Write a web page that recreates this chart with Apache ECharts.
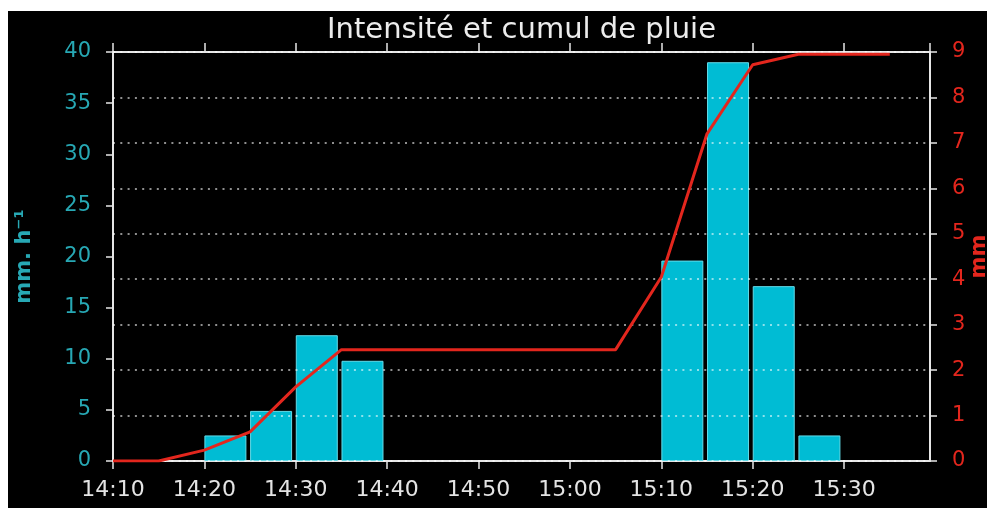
<!DOCTYPE html>
<html>
<head>
<meta charset="utf-8">
<script src="https://cdn.jsdelivr.net/npm/echarts@6/dist/echarts.min.js"></script>
<style>
	html, body {
		margin: 0;
		padding: 0;
		background: #ffffff;
	}
	#pluie {
		position: absolute;
		left: 8px;
		top: 11px;
		width: 979px;
		height: 497px;
	}
</style>
</head>
<body>
<div id="pluie"></div>
<script>
	// intensité (mm/h) par pas de 5 minutes
	var barTimes = ['14:20', '14:25', '14:30', '14:35', '15:10', '15:15', '15:20', '15:25'];
	var intensite = [2.5, 4.9, 12.3, 9.8, 19.6, 39.0, 17.1, 2.5];

	// cumul (mm)
	var cumulTimes = ['14:10', '14:15', '14:20', '14:25', '14:30', '14:35', '14:40', '14:45', '14:50',
		'14:55', '15:00', '15:05', '15:10', '15:15', '15:20', '15:25', '15:30', '15:35'];
	var cumul = [0, 0, 0.24, 0.64, 1.63, 2.45, 2.45, 2.45, 2.45,
		2.45, 2.45, 2.45, 4.05, 7.2, 8.72, 8.95, 8.95, 8.95];

	var leftTicks = [0, 40, 5];   // min, max, pas
	var rightTicks = [0, 9, 1];

	function toMin(t) {
		var p = t.split(':');
		return parseInt(p[0]) * 60 + parseInt(p[1]);
	}
	function fmt(v) {
		if (Math.abs(v % 10) > 0.001) return '';
		var h = Math.floor(v / 60), m = Math.round(v % 60);
		return h + ':' + (m < 10 ? '0' + m : m);
	}

	var xMin = toMin('14:10');
	var xMax = xMin + 89.4;
	var barShift = 2.3; // barres alignées sur le début de l'intervalle

	var chart = echarts.init(document.getElementById('pluie'));
	var font = 'DejaVu Sans';
	var spine = '#e6e6e6';
	var teal = '#27a8b4';
	var red = '#e3261d';

	var option = {
		backgroundColor: '#000000',
		animation: false,
		textStyle: { fontFamily: font },
		title: {
			text: 'Intensité et cumul de pluie',
			left: 314,
			top: 0,
			textStyle: { color: '#ececec', fontSize: 29, fontWeight: 'normal', fontFamily: font }
		},
		grid: { left: 105, right: 57, top: 41, bottom: 47, outerBoundsMode: 'none', containLabel: false },
		xAxis: [{
			type: 'value',
			position: 'bottom',
			min: xMin,
			max: xMax,
			interval: 10,
			axisLine: { show: true, onZero: false, lineStyle: { color: spine, width: 2 } },
			axisTick: { show: true, length: 8, lineStyle: { color: spine, width: 1.5 } },
			axisLabel: { color: '#e4e4e4', fontSize: 22, margin: 18, formatter: fmt, showMaxLabel: false, fontFamily: font },
			splitLine: { show: false }
		}, {
			type: 'value',
			position: 'top',
			min: xMin,
			max: xMax,
			interval: 10,
			axisLine: { show: true, onZero: false, lineStyle: { color: spine, width: 2 } },
			axisTick: { show: true, length: 9, lineStyle: { color: spine, width: 1.5 } },
			axisLabel: { show: false },
			splitLine: { show: false }
		}],
		yAxis: [{
			type: 'value',
			position: 'left',
			min: leftTicks[0],
			max: leftTicks[1],
			interval: leftTicks[2],
			name: 'mm. h⁻¹',
			nameLocation: 'middle',
			nameGap: 78,
			nameMoveOverlap: false,
			nameTextStyle: { color: teal, fontSize: 21, fontWeight: 'bold', fontFamily: font },
			axisLine: { show: true, onZero: false, lineStyle: { color: spine, width: 2 } },
			axisTick: { show: true, length: 7, lineStyle: { color: spine, width: 1.5 } },
			axisLabel: { color: teal, fontSize: 21, margin: 22, fontFamily: font },
			splitLine: { show: false }
		}, {
			type: 'value',
			position: 'right',
			min: rightTicks[0],
			max: rightTicks[1],
			interval: rightTicks[2],
			z: 3,
			name: 'mm',
			nameLocation: 'middle',
			nameGap: 39,
			nameMoveOverlap: false,
			nameTextStyle: { color: red, fontSize: 21, fontWeight: 'bold', fontFamily: font },
			axisLine: { show: true, onZero: false, lineStyle: { color: spine, width: 2 } },
			axisTick: { show: true, length: 7, lineStyle: { color: spine, width: 1.5 } },
			axisLabel: { color: red, fontSize: 21, margin: 22, fontFamily: font },
			splitLine: { show: true, lineStyle: { color: 'rgba(255,255,255,0.75)', width: 1.5, type: [2, 5.3] } }
		}],
		series: [{
			name: 'intensite',
			type: 'bar',
			xAxisIndex: 0,
			yAxisIndex: 0,
			barWidth: 42,
			z: 2,
			itemStyle: { color: '#00bcd4', borderColor: '#63dcea', borderWidth: 1 },
			data: barTimes.map(function (t, i) { return [toMin(t) + barShift, intensite[i]]; })
		}, {
			name: 'cumul',
			type: 'line',
			xAxisIndex: 0,
			yAxisIndex: 1,
			symbol: 'none',
			z: 4,
			lineStyle: { color: red, width: 3 },
			data: cumulTimes.map(function (t, i) { return [toMin(t), cumul[i]]; })
		}]
	};

	chart.setOption(option);
</script>
</body>
</html>
